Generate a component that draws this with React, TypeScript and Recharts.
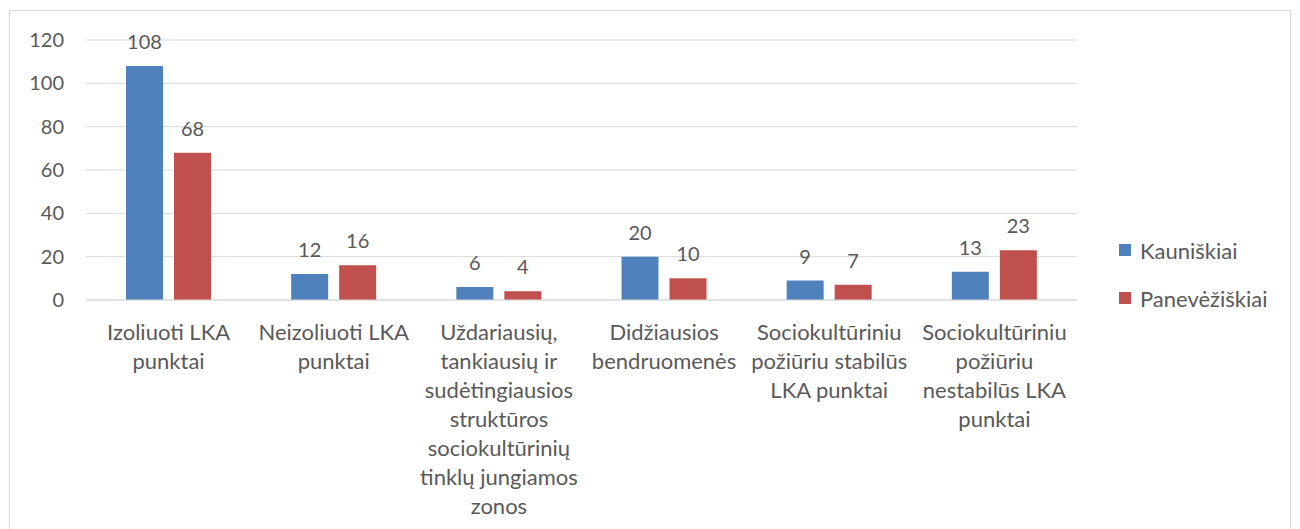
import React from 'react';
import { BarChart, Bar, XAxis, YAxis, CartesianGrid, LabelList } from 'recharts';

const categories = [
  ['Izoliuoti LKA', 'punktai'],
  ['Neizoliuoti LKA', 'punktai'],
  ['Uždariausių,', 'tankiausių ir', 'sudėtingiausios', 'struktūros', 'sociokultūrinių', 'tinklų jungiamos', 'zonos'],
  ['Didžiausios', 'bendruomenės'],
  ['Sociokultūriniu', 'požiūriu stabilūs', 'LKA punktai'],
  ['Sociokultūriniu', 'požiūriu', 'nestabilūs LKA', 'punktai'],
];
const kauniskiai = [108, 12, 6, 20, 9, 13];
const panevezi = [68, 16, 4, 10, 7, 23];
const yTicks = [0, 20, 40, 60, 80, 100, 120];
const seriesNames = ['Kauniškiai', 'Panevėžiškiai'];

const BLUE = '#4f81bd';
const RED = '#c0504d';
const TEXT = '#595959';
const FONT = 'Lato, "Open Sans", sans-serif';

const data = categories.map((lines, i) => ({
  name: lines.join(' '),
  [seriesNames[0]]: kauniskiai[i],
  [seriesNames[1]]: panevezi[i],
}));

const CategoryTick = (props: any) => {
  const { x, y, payload } = props;
  const lines = categories[payload.index] || [String(payload.value)];
  return (
    <text x={x} y={y} textAnchor="middle" fill={TEXT} fontSize={22} fontFamily={FONT}>
      {lines.map((ln, i) => (
        <tspan key={i} x={x} y={y + 32 + i * 29}>{ln}</tspan>
      ))}
    </text>
  );
};

export default function App() {
  return (
    <div style={{ position: 'absolute', left: 0, top: 0, width: 1300, height: 529, background: '#fff', overflow: 'hidden' }}>
      <div style={{ position: 'absolute', left: 9, top: 10, width: 1282, height: 530, border: '1px solid #d9d9d9', boxSizing: 'border-box' }} />
      <BarChart
        width={1300}
        height={529}
        data={data}
        margin={{ top: 40, right: 223, bottom: 0, left: 0 }}
        barSize={37}
        barGap={11}
        style={{ position: 'absolute', left: 0, top: 0 }}
      >
        <CartesianGrid vertical={false} stroke="#d9d9d9" strokeWidth={1} />
        <XAxis
          dataKey="name"
          axisLine={{ stroke: '#d9d9d9' }}
          tickLine={false}
          interval={0}
          tick={<CategoryTick />}
          height={229}
        />
        <YAxis
          width={86}
          domain={[0, 120]}
          ticks={yTicks}
          axisLine={false}
          tickLine={false}
          tickSize={0}
          tickMargin={22}
          tick={{ fill: TEXT, fontSize: 20, fontFamily: FONT }}
        />
        <Bar dataKey={seriesNames[0]} fill={BLUE} isAnimationActive={false}>
          <LabelList dataKey={seriesNames[0]} position="top" offset={17} fill={TEXT} fontSize={20} fontFamily={FONT} />
        </Bar>
        <Bar dataKey={seriesNames[1]} fill={RED} isAnimationActive={false}>
          <LabelList dataKey={seriesNames[1]} position="top" offset={17} fill={TEXT} fontSize={20} fontFamily={FONT} />
        </Bar>
      </BarChart>
      <div style={{ position: 'absolute', left: 1119, top: 226, fontFamily: FONT, fontSize: 22, color: TEXT }}>
        {seriesNames.map((label, i) => (
          <div key={label} style={{ display: 'flex', alignItems: 'center', height: 48 }}>
            <span style={{ width: 12, height: 12, background: i === 0 ? BLUE : RED, marginRight: 9, display: 'inline-block' }} />
            <span>{label}</span>
          </div>
        ))}
      </div>
    </div>
  );
}
